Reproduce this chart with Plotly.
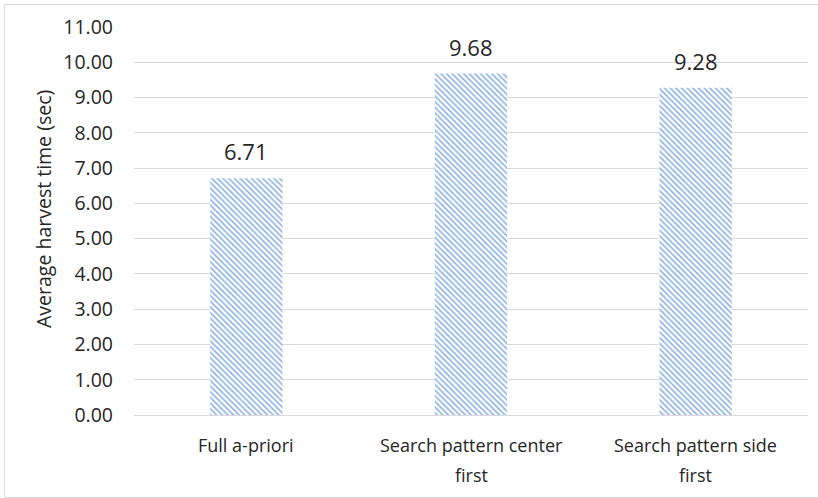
import plotly.graph_objects as go

categories = ["Full a-priori", "Search pattern center first", "Search pattern side first"]
label_line1 = ["Full a-priori", "Search pattern center", "Search pattern side"]
label_line2 = ["", "first", "first"]
values = [6.71, 9.68, 9.28]
value_labels = ["6.71", "9.68", "9.28"]
tick_vals = [0, 1, 2, 3, 4, 5, 6, 7, 8, 9, 10, 11]
tick_text = ["%.2f" % v for v in tick_vals]
y_title = "Average harvest time (sec)"

W, H = 818, 498
ml, mr, mt, mb = 134, 10, 27, 83
pw, ph = W - ml - mr, H - mt - mb
FONT = "Open Sans, Noto Sans, sans-serif"
TXT = "#262626"

fig = go.Figure(go.Bar(
    x=categories, y=values, width=0.322,
    marker=dict(color="white", line=dict(width=0),
                pattern=dict(shape="\\", fgcolor="#8DB4E2", bgcolor="white",
                             size=4, solidity=0.4, fillmode="replace")),
    hoverinfo="skip",
))

ann = []
for c, v, t in zip(categories, values, value_labels):
    ann.append(dict(x=c, y=v, xref="x", yref="y", text=t, showarrow=False,
                    yanchor="bottom", yshift=10, font=dict(size=22, color=TXT, family=FONT)))
for c, l1, l2 in zip(categories, label_line1, label_line2):
    ann.append(dict(x=c, y=-30 / ph, xref="x", yref="paper", text=l1, showarrow=False,
                    yanchor="middle", font=dict(size=18, color=TXT, family=FONT)))
    if l2:
        ann.append(dict(x=c, y=-60 / ph, xref="x", yref="paper", text=l2, showarrow=False,
                        yanchor="middle", font=dict(size=18, color=TXT, family=FONT)))
ann.append(dict(x=(43 - ml) / pw, y=(H - mb - 209) / ph, xref="paper", yref="paper",
                text=y_title, textangle=-90, showarrow=False,
                xanchor="center", yanchor="middle", font=dict(size=19.5, color=TXT, family=FONT)))

fig.update_layout(
    width=W, height=H, margin=dict(l=ml, r=mr, t=mt, b=mb),
    paper_bgcolor="white", plot_bgcolor="white",
    font=dict(family=FONT, size=16, color=TXT),
    showlegend=False,
    xaxis=dict(showgrid=False, showline=False, ticks="", showticklabels=False,
               range=[-0.5, 2.5]),
    yaxis=dict(range=[0, 11], tickvals=tick_vals, ticktext=tick_text,
               showgrid=True, gridcolor="#D9D9D9", gridwidth=1, zeroline=True,
               zerolinecolor="#D9D9D9", zerolinewidth=1,
               ticks="", ticklen=0, tickfont=dict(size=19.5, color=TXT),
               ticklabelstandoff=20),
    annotations=ann,
    shapes=[dict(type="rect", xref="paper", yref="paper",
                 x0=(4.5 - ml) / pw, x1=(818 + 5 - ml) / pw,
                 y0=(H - 497.5 - mb) / ph, y1=(H - 4.5 - mb) / ph,
                 line=dict(color="#D9D9D9", width=1), fillcolor="rgba(0,0,0,0)",
                 layer="below")],
)

fig.write_html("out.html")
